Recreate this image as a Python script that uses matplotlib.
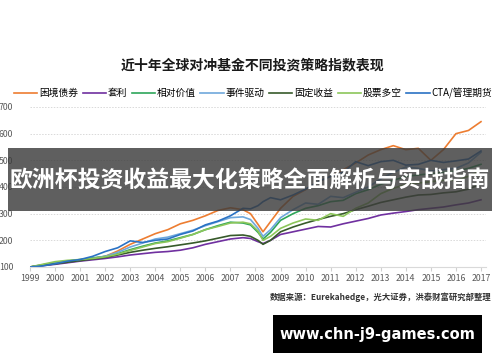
import matplotlib
matplotlib.use("Agg")
import matplotlib.pyplot as plt
from matplotlib.patches import Rectangle

plt.rcParams['font.family'] = ['Noto Sans CJK SC', 'DejaVu Sans']

# --- data ---
years = [1999, 1999.5, 2000, 2000.5, 2001, 2001.5, 2002, 2002.5, 2003, 2003.5,
         2004, 2004.5, 2005, 2005.5, 2006, 2006.5, 2007, 2007.5, 2007.8, 2008.1,
         2008.3, 2008.6, 2009, 2009.5, 2010, 2010.5, 2011, 2011.5, 2012, 2012.5,
         2013, 2013.5, 2014, 2014.5, 2015, 2015.5, 2016, 2016.5, 2017]

distressed = [100, 108, 115, 120, 125, 132, 140, 160, 185, 205,
              225, 240, 262, 275, 292, 312, 322, 315, 300, 260,
              232, 270, 320, 365, 390, 420, 440, 465, 490, 520,
              540, 555, 540, 545, 500, 540, 600, 612, 645]
arbitrage = [100, 105, 110, 116, 122, 127, 132, 138, 145, 150,
             155, 158, 163, 172, 185, 195, 205, 210, 207, 195,
             188, 200, 222, 232, 242, 252, 250, 262, 272, 282,
             295, 302, 308, 315, 320, 325, 333, 340, 352]
relative_value = [100, 108, 115, 122, 128, 134, 140, 150, 165, 178,
                  190, 198, 210, 222, 240, 255, 268, 265, 258, 230,
                  205, 230, 275, 300, 320, 330, 345, 350, 375, 390,
                  410, 425, 440, 445, 450, 455, 460, 470, 485]
event_driven = [100, 106, 115, 120, 126, 132, 140, 155, 175, 190,
                205, 212, 225, 238, 255, 270, 285, 288, 278, 245,
                215, 240, 285, 315, 340, 335, 365, 360, 380, 400,
                430, 455, 475, 470, 460, 465, 470, 490, 530]
fixed_income = [100, 106, 112, 118, 124, 130, 136, 145, 155, 163,
                170, 176, 183, 190, 198, 208, 218, 220, 215, 200,
                185, 200, 232, 250, 265, 278, 290, 300, 315, 328,
                342, 352, 362, 370, 372, 378, 382, 392, 412]
long_short = [100, 110, 120, 125, 128, 132, 138, 148, 162, 175,
              188, 195, 208, 222, 240, 252, 265, 268, 262, 235,
              200, 215, 245, 265, 280, 275, 300, 290, 320, 340,
              375, 395, 410, 415, 420, 425, 425, 440, 462]
cta = [100, 104, 112, 122, 128, 140, 158, 172, 198, 192,
       200, 205, 222, 235, 258, 272, 292, 320, 318, 330,
       345, 360, 352, 370, 392, 420, 440, 455, 495, 480,
       495, 500, 482, 485, 500, 492, 498, 505, 535]

series_names = ['困境债券', '套利', '相对价值', '事件驱动', '固定收益', '股票多空', 'CTA/管理期货']
series_values = [distressed, arbitrage, relative_value, event_driven, fixed_income, long_short, cta]
series_colors = ['#ed7d31', '#7030a0', '#2ea65a', '#6fa8dc', '#375a2a', '#8cc65a', '#2a72c4']

year_ticks = list(range(1999, 2018))
value_ticks = [100, 200, 300, 400, 500, 600, 700]

title = '近十年全球对冲基金不同投资策略指数表现'
source = '数据来源：Eurekahedge，光大证券，洪泰财富研究部整理'
banner = '欧洲杯投资收益最大化策略全面解析与实战指南'
site = 'www.chn-j9-games.com'

W, H = 500, 362
fig = plt.figure(figsize=(W / 100, H / 100), dpi=100)
fig.patch.set_facecolor('white')

ax = fig.add_axes([30 / W, 1 - 267 / H, 456 / W, 160 / H])
for name, vals, col in zip(series_names, series_values, series_colors):
    ax.plot(years, vals, color=col, lw=1.2, label=name)

ax.set_xlim(1999, 2017.2)
ax.set_ylim(100, 700)
ax.set_xticks(year_ticks)
ax.set_xticklabels([str(y) for y in year_ticks])
ax.set_yticks(value_ticks)
ax.tick_params(axis='x', length=3, color='#d0d0d0', labelsize=6.3, labelcolor='#595959', pad=2)
ax.tick_params(axis='y', length=0, labelsize=6.3, labelcolor='#595959', pad=12)
ax.grid(axis='y', color='#d9d9d9', ls=(0, (1.5, 1.5)), lw=0.7)
for s in ['top', 'right', 'left']:
    ax.spines[s].set_visible(False)
ax.spines['bottom'].set_color('#d9d9d9')
ax.set_axisbelow(True)

fig.text(252 / W, 1 - 65 / H, title, ha='center', va='center', fontsize=10, fontweight='bold', color='#1a1a1a')
fig.legend(loc='center', bbox_to_anchor=(253 / W, 1 - 93 / H), ncol=7, frameon=False,
           fontsize=7, handlelength=2.4, columnspacing=0.5, handletextpad=0.15)

fig.text(492 / W, 1 - 297 / H, source, ha='right', va='center', fontsize=6, fontweight='bold', color='#333333')

# overlay banner and site label
fig.patches.append(Rectangle((8 / W, 1 - 211 / H), 484 / W, 63 / H, transform=fig.transFigure,
                             facecolor='#3c3c3c', alpha=0.82, edgecolor='none', zorder=5))
fig.text(250 / W, 1 - 180 / H, banner, ha='center', va='center', fontsize=16.5, fontweight='bold',
         color='white', zorder=6)
fig.patches.append(Rectangle((273 / W, 1 - 353 / H), 209 / W, 38 / H, transform=fig.transFigure,
                             facecolor='black', edgecolor='none', zorder=5))
fig.text(377 / W, 1 - 334 / H, site, ha='center', va='center', fontsize=10.5, fontweight='bold',
         color='white', family='DejaVu Sans', zorder=6)

fig.savefig('out.png', dpi=100)
